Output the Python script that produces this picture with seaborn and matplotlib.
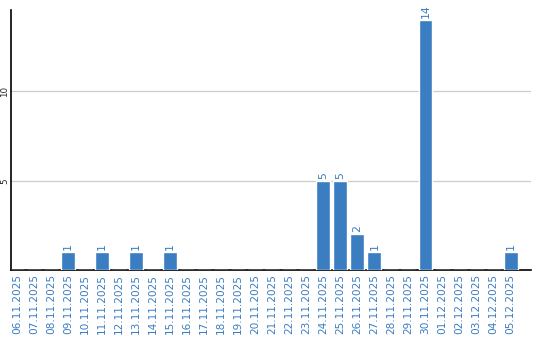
import matplotlib
matplotlib.use("Agg")
import matplotlib.pyplot as plt
import seaborn as sns
import pandas as pd

dates = ["06.11.2025", "07.11.2025", "08.11.2025", "09.11.2025", "10.11.2025",
         "11.11.2025", "12.11.2025", "13.11.2025", "14.11.2025", "15.11.2025",
         "16.11.2025", "17.11.2025", "18.11.2025", "19.11.2025", "20.11.2025",
         "21.11.2025", "22.11.2025", "23.11.2025", "24.11.2025", "25.11.2025",
         "26.11.2025", "27.11.2025", "28.11.2025", "29.11.2025", "30.11.2025",
         "01.12.2025", "02.12.2025", "03.12.2025", "04.12.2025", "05.12.2025"]
counts = [0, 0, 0, 1, 0, 1, 0, 1, 0, 1,
          0, 0, 0, 0, 0, 0, 0, 0, 5, 5,
          2, 1, 0, 0, 14, 0, 0, 0, 0, 1]
yticks = [5, 10]

df = pd.DataFrame({"date": dates, "count": counts})

sns.set_style("white")
plt.rcParams['font.family'] = ['DejaVu Sans']
blue = "#3b7dc1"

fig = plt.figure(figsize=(5.4, 3.4), dpi=100)
ax = fig.add_axes([0.0204, 0.206, 0.963, 0.764])

sns.barplot(data=df, x="date", y="count", color=blue, saturation=1, width=0.82, ax=ax, zorder=3)

for i, v in enumerate(counts):
    if v > 0:
        ax.text(i, v + 0.1, str(v), rotation=90, ha="center", va="bottom",
                color=blue, fontsize=7.8)

ax.set_xlim(-0.35, 30.2)
ax.set_ylim(0, 14.55)
ax.set_yticks(yticks)
ax.set_yticklabels([str(t) for t in yticks], rotation=90, va="center", fontsize=6.3)
ax.tick_params(axis="y", length=0, pad=1.5)
ax.tick_params(axis="x", length=0, pad=3, labelrotation=90, labelsize=7.6, labelcolor=blue)
ax.yaxis.grid(True, color="#cccccc", linewidth=0.9, zorder=0)
ax.set_axisbelow(True)
ax.set_xlabel("")
ax.set_ylabel("")
for s in ["top", "right"]:
    ax.spines[s].set_visible(False)
for s in ["left", "bottom"]:
    ax.spines[s].set_color("black")
    ax.spines[s].set_linewidth(1.2)

fig.savefig("out.png", dpi=100)
